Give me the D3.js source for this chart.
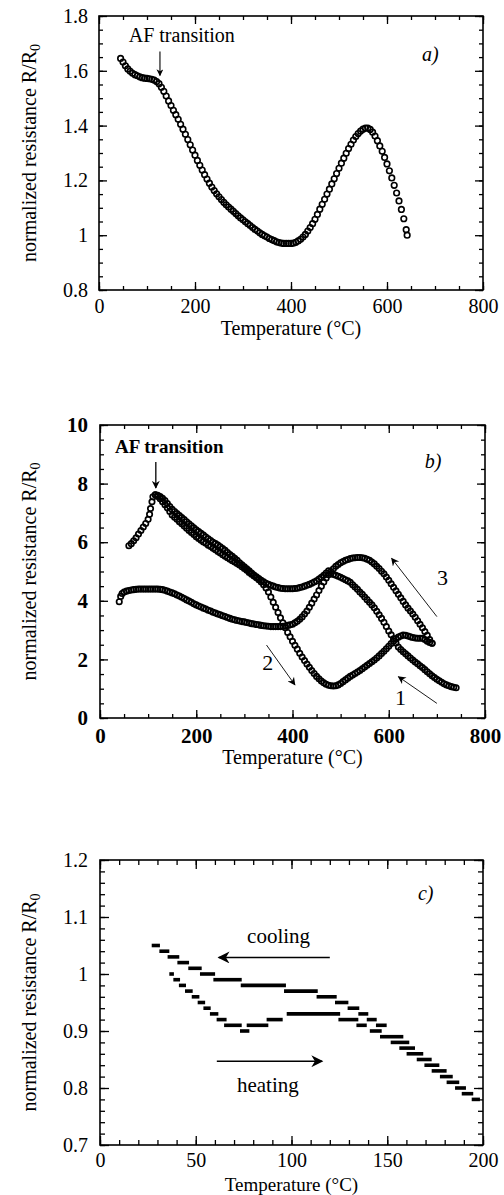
<!DOCTYPE html>
<html>
<head>
<meta charset="utf-8">
<script src="https://cdn.jsdelivr.net/npm/d3@7"></script>
<style>
  body { margin: 0; background: #fff; }
  svg { display: block; }
  svg text { font-family: "Liberation Serif", "Times New Roman", serif; fill: #000; }
  .tick line { stroke: #000; stroke-width: 1.3; }
  .frame { fill: none; stroke: #000; stroke-width: 1.6; }
  .pt { fill: none; stroke: #000; }
  .step { stroke: #000; stroke-width: 3.6; }
</style>
</head>
<body>
<svg id="chart" width="504" height="1195"></svg>
<script>
// ---- panel a) : single heating run, R/R0 vs T
const tempA = [45,50,55,60,65,70,75,80,85,90,95,100,105,110,115,120,125,130,135,140,
  145,150,155,160,165,170,175,180,185,190,195,200,205,210,215,220,225,230,235,240,
  245,250,255,260,265,270,275,280,285,290,295,300,305,310,315,320,325,330,335,340,
  345,350,355,360,365,370,375,380,385,390,395,400,405,410,415,420,425,430,435,440,
  445,450,455,460,465,470,475,480,485,490,495,500,505,510,515,520,525,530,535,540,
  545,550,555,560,565,570,575,580,585,590,595,600,605,610,615,620,625,630,635,640,642];
const resA = [1.645,1.632,1.618,1.607,1.598,1.591,1.586,1.582,1.578,1.575,1.573,1.572,1.571,1.569,1.566,1.561,1.553,1.54,1.525,1.508,
  1.49,1.473,1.456,1.44,1.423,1.405,1.387,1.368,1.349,1.33,1.311,1.292,1.273,1.255,1.238,1.221,1.205,1.19,1.176,1.163,
  1.151,1.14,1.13,1.12,1.111,1.103,1.095,1.087,1.079,1.071,1.063,1.056,1.049,1.042,1.035,1.028,1.021,1.015,1.009,1.003,
  0.998,0.993,0.988,0.984,0.98,0.976,0.973,0.971,0.97,0.97,0.97,0.97,0.971,0.974,0.979,0.985,0.993,1.003,1.015,1.028,
  1.042,1.058,1.076,1.095,1.113,1.131,1.15,1.168,1.187,1.206,1.225,1.244,1.263,1.281,1.299,1.316,1.332,1.347,1.36,1.371,
  1.38,1.387,1.391,1.391,1.386,1.376,1.362,1.345,1.326,1.306,1.284,1.26,1.235,1.209,1.182,1.154,1.125,1.094,1.06,1.02,1.0];

// ---- panel b) : three runs
const tempB1 = [115,120,125,130,135,140,145,150,155,160,165,170,175,180,185,190,195,200,205,210,
  215,220,225,230,235,240,245,250,255,260,265,270,275,280,285,290,295,300,305,310,
  315,320,325,330,335,340,345,350,355,360,365,370,375,380,385,390,395,400,405,410,
  415,420,425,430,435,440,445,450,455,460,465,470,475,480,485,490,495,500,505,510,
  515,520,525,530,535,540,545,550,555,560,565,570,575,580,585,590,595,600,605,610,
  615,620,625,630,635,640,645,650,655,660,665,670,675,680,685,690,695,700,705,710,
  715,720,725,730,735,740];
const resB1 = [7.62,7.6,7.56,7.5,7.42,7.32,7.22,7.12,7.05,6.98,6.91,6.84,6.77,6.7,6.63,6.56,6.49,6.42,6.36,6.3,
  6.24,6.18,6.12,6.06,6.0,5.95,5.9,5.84,5.78,5.72,5.65,5.58,5.52,5.45,5.38,5.3,5.23,5.16,5.09,5.02,
  4.95,4.88,4.82,4.76,4.7,4.65,4.6,4.56,4.53,4.5,4.47,4.45,4.43,4.42,4.41,4.41,4.41,4.41,4.42,4.43,
  4.45,4.47,4.5,4.53,4.56,4.6,4.64,4.68,4.74,4.8,4.87,4.95,5.02,4.93,4.9,4.87,4.84,4.8,4.76,4.72,
  4.68,4.63,4.55,4.47,4.39,4.3,4.22,4.13,4.04,3.95,3.86,3.76,3.64,3.52,3.4,3.27,3.12,2.97,2.84,2.7,
  2.56,2.42,2.34,2.26,2.19,2.12,2.05,1.98,1.91,1.85,1.78,1.72,1.65,1.58,1.51,1.44,1.38,1.32,1.27,1.22,
  1.17,1.13,1.1,1.07,1.05,1.03];

const tempB2 = [60,65,70,75,80,85,90,95,100,103,105,108,110,115,120,125,130,135,140,145,
  150,155,160,165,170,175,180,185,190,195,200,205,210,215,220,225,230,235,240,245,
  250,255,260,265,270,275,280,285,290,295,300,305,310,315,320,325,330,335,340,345,
  350,355,360,365,370,375,380,385,390,395,400,405,410,415,420,425,430,435,440,445,
  450,455,460,465,470,475,480,485,490,495,500,505,510,515,520,525,530,535,540,545,
  550,555,560,565,570,575,580,585,590,595,600,605,610,615,620,625,630,635,640,645,
  650,655,660,665,670,675,680,685,690];
const resB2 = [5.88,5.95,6.05,6.15,6.28,6.4,6.52,6.64,6.78,6.95,7.15,7.38,7.55,7.62,7.56,7.48,7.38,7.28,7.17,7.05,
  6.93,6.85,6.78,6.7,6.63,6.55,6.48,6.4,6.33,6.26,6.19,6.13,6.07,6.01,5.96,5.9,5.85,5.79,5.74,5.68,
  5.63,5.57,5.52,5.47,5.42,5.37,5.32,5.27,5.22,5.16,5.1,5.04,4.97,4.91,4.85,4.79,4.72,4.64,4.55,4.44,
  4.3,4.13,3.95,3.78,3.6,3.42,3.25,3.08,2.92,2.77,2.62,2.48,2.35,2.21,2.08,1.96,1.84,1.73,1.62,1.52,
  1.42,1.34,1.26,1.2,1.15,1.12,1.1,1.09,1.1,1.13,1.18,1.24,1.3,1.36,1.42,1.47,1.52,1.57,1.62,1.68,
  1.74,1.8,1.86,1.92,1.98,2.05,2.12,2.2,2.28,2.36,2.45,2.54,2.62,2.7,2.76,2.8,2.83,2.82,2.8,2.77,
  2.75,2.73,2.72,2.72,2.72,2.68,2.62,2.58,2.55];

const tempB3 = [40,43,46,50,55,60,65,70,75,80,85,90,95,100,105,110,115,120,125,130,
  135,140,145,150,155,160,165,170,175,180,185,190,195,200,205,210,215,220,225,230,
  235,240,245,250,255,260,265,270,275,280,285,290,295,300,305,310,315,320,325,330,
  335,340,345,350,355,360,365,370,375,380,385,390,395,400,405,410,415,420,425,430,
  435,440,445,450,455,460,465,470,475,480,485,490,495,500,505,510,515,520,525,530,
  535,540,545,550,555,560,565,570,575,580,585,590,595,600,605,610,615,620,625,630,
  635,640,645,650,655,660,665,670,675,680,685,690];
const resB3 = [3.97,4.15,4.25,4.3,4.33,4.35,4.37,4.38,4.39,4.4,4.4,4.4,4.4,4.4,4.4,4.4,4.4,4.4,4.39,4.38,
  4.36,4.33,4.3,4.27,4.24,4.2,4.16,4.12,4.08,4.03,3.99,3.95,3.9,3.86,3.82,3.79,3.75,3.72,3.68,3.65,
  3.61,3.58,3.55,3.52,3.49,3.46,3.43,3.4,3.37,3.35,3.33,3.31,3.29,3.28,3.26,3.24,3.22,3.21,3.19,3.18,
  3.16,3.15,3.14,3.13,3.12,3.12,3.12,3.12,3.12,3.13,3.14,3.16,3.18,3.2,3.25,3.3,3.37,3.45,3.55,3.65,
  3.78,3.92,4.06,4.2,4.35,4.5,4.64,4.78,4.89,5.0,5.09,5.18,5.24,5.3,5.34,5.38,5.41,5.44,5.46,5.47,
  5.48,5.48,5.47,5.45,5.42,5.38,5.32,5.26,5.18,5.1,5.01,4.92,4.81,4.7,4.58,4.46,4.34,4.22,4.1,3.98,
  3.86,3.75,3.65,3.55,3.44,3.32,3.2,3.08,2.95,2.82,2.68,2.55];

// ---- panel c) : quantized readings, [T from, T to, R/R0]
const coolingSteps = [
  [27.0,31.3,1.05],[31.0,36.2,1.04],[35.3,41.4,1.03],[40.4,46.5,1.02],[46.1,53.1,1.01],
  [52.2,60.1,1.00],[59.2,74.0,0.99],[73.5,97.1,0.98],[96.1,113.7,0.97],[113.1,123.6,0.96],
  [122.7,129.7,0.95],[129.3,135.4,0.94],[134.9,140.1,0.93],[139.3,144.5,0.92],[144.1,149.7,0.91],
  [146.2,158.4,0.89],[151.8,161.5,0.88],[156.3,164.5,0.87],[160.1,168.8,0.86],[165.4,173.2,0.85],
  [169.4,177.2,0.84],[173.2,181.0,0.83],[177.5,184.2,0.82],[181.0,187.6,0.81],[185.4,191.1,0.80],
  [188.9,194.9,0.79],[194.1,198.4,0.78]
];
const heatingSteps = [
  [36.2,38.6,1.00],[38.3,41.8,0.99],[41.2,44.9,0.98],[44.4,48.4,0.97],[47.9,51.9,0.96],
  [51.0,54.9,0.95],[54.0,57.8,0.94],[57.4,61.8,0.93],[60.9,66.1,0.92],[64.8,74.0,0.91],
  [73.1,78.0,0.90],[76.6,87.9,0.91],[87.0,95.4,0.92],[97.5,125.4,0.93],[124.5,134.9,0.92],
  [133.9,139.3,0.91],[140.9,147.1,0.90]
];

// tick values
const xTicksAB = [0,200,400,600,800];
const yTicksA = [0.8,1,1.2,1.4,1.6,1.8];
const yTicksB = [0,2,4,6,8,10];
const xTicksC = [0,50,100,150,200];
const yTicksC = [0.7,0.8,0.9,1,1.1,1.2];

const svg = d3.select('#chart');
const defs = svg.append('defs');

// barbed arrow heads
function makeHead(id, len, wid) {
  defs.append('marker')
      .attr('id', id)
      .attr('viewBox', '0 0 10 10')
      .attr('refX', 9).attr('refY', 5)
      .attr('markerUnits', 'userSpaceOnUse')
      .attr('markerWidth', len).attr('markerHeight', wid)
      .attr('orient', 'auto')
    .append('path')
      .attr('d', 'M0,0 L10,5 L0,10 L3,5 Z')
      .attr('fill', '#000');
}
makeHead('headS', 8, 7);
makeHead('headM', 10, 8);
makeHead('headL', 15, 12);

function drawPanel(cfg) {
  const g = svg.append('g');
  const x = d3.scaleLinear().domain(cfg.xDomain).range([cfg.left, cfg.right]);
  const y = d3.scaleLinear().domain(cfg.yDomain).range([cfg.bottom, cfg.top]);
  const xMinor = d3.range(cfg.xDomain[0], cfg.xDomain[1] + 1e-9, cfg.xMinorStep);
  const yMinor = d3.range(0, Math.round((cfg.yDomain[1] - cfg.yDomain[0]) / cfg.yMinorStep) + 1)
      .map(i => cfg.yDomain[0] + i * cfg.yMinorStep);

  const clean = sel => sel.select('.domain').remove();

  // minor ticks on all four sides, pointing inward
  g.append('g').attr('transform', `translate(0,${cfg.bottom})`)
      .call(d3.axisBottom(x).tickValues(xMinor).tickSize(-cfg.minor).tickFormat('')).call(clean);
  g.append('g').attr('transform', `translate(0,${cfg.top})`)
      .call(d3.axisTop(x).tickValues(xMinor).tickSize(-cfg.minor).tickFormat('')).call(clean);
  g.append('g').attr('transform', `translate(${cfg.left},0)`)
      .call(d3.axisLeft(y).tickValues(yMinor).tickSize(-cfg.minor).tickFormat('')).call(clean);
  g.append('g').attr('transform', `translate(${cfg.right},0)`)
      .call(d3.axisRight(y).tickValues(yMinor).tickSize(-cfg.minor).tickFormat('')).call(clean);

  // major ticks + labels
  const xAx = g.append('g').attr('transform', `translate(0,${cfg.bottom})`)
      .call(d3.axisBottom(x).tickValues(cfg.xTicks).tickSize(-cfg.major).tickPadding(cfg.xPad).tickFormat(d => d))
      .call(clean);
  g.append('g').attr('transform', `translate(0,${cfg.top})`)
      .call(d3.axisTop(x).tickValues(cfg.xTicks).tickSize(-cfg.major).tickFormat('')).call(clean);
  const yAx = g.append('g').attr('transform', `translate(${cfg.left},0)`)
      .call(d3.axisLeft(y).tickValues(cfg.yTicks).tickSize(-cfg.major).tickPadding(cfg.yPad).tickFormat(d => d))
      .call(clean);
  g.append('g').attr('transform', `translate(${cfg.right},0)`)
      .call(d3.axisRight(y).tickValues(cfg.yTicks).tickSize(-cfg.major).tickFormat('')).call(clean);

  [xAx, yAx].forEach(a => a.selectAll('text')
      .style('font-size', cfg.tickFont + 'px')
      .style('font-weight', cfg.bold ? 'bold' : 'normal'));

  g.append('rect')
      .attr('class', 'frame')
      .attr('x', cfg.left).attr('y', cfg.top)
      .attr('width', cfg.right - cfg.left).attr('height', cfg.bottom - cfg.top);

  // axis titles
  g.append('text')
      .attr('x', (cfg.left + cfg.right) / 2)
      .attr('y', cfg.titleY)
      .attr('text-anchor', 'middle')
      .style('font-size', (cfg.titleFont || 20) + 'px')
      .text('Temperature (°C)');

  const yl = g.append('text')
      .attr('transform', `translate(36,${(cfg.top + cfg.bottom) / 2}) rotate(-90)`)
      .attr('text-anchor', 'middle')
      .style('font-size', '20px');
  yl.append('tspan').text('normalized resistance R/R');
  yl.append('tspan').attr('dy', '0.3em').style('font-size', '14px').text('0');

  return {g, x, y};
}

function note(p, tx, ty, str, size, extra) {
  const t = p.g.append('text')
      .attr('x', p.x(tx)).attr('y', p.y(ty))
      .style('font-size', size + 'px')
      .text(str);
  if (extra === 'italic') t.style('font-style', 'italic');
  if (extra === 'bold') t.style('font-weight', 'bold');
}

function arrow(p, x1, y1, x2, y2, width, head) {
  p.g.append('line')
      .attr('x1', p.x(x1)).attr('y1', p.y(y1))
      .attr('x2', p.x(x2)).attr('y2', p.y(y2))
      .attr('stroke', '#000').attr('stroke-width', width)
      .attr('marker-end', `url(#${head})`);
}

// ---------- a)
const A = drawPanel({
  left: 99, right: 483, top: 16, bottom: 290,
  xDomain: [0, 800], yDomain: [0.8, 1.8],
  xTicks: xTicksAB, yTicks: yTicksA, xMinorStep: 50, yMinorStep: 0.05,
  major: 8, minor: 4, xPad: 9, yPad: 11, tickFont: 20, titleY: 335
});
A.g.append('g').selectAll('circle')
    .data(d3.zip(tempA, resA))
    .join('circle')
      .attr('class', 'pt')
      .attr('cx', d => A.x(d[0]))
      .attr('cy', d => A.y(d[1]))
      .attr('r', 2.8)
      .attr('stroke-width', 1.6);

note(A, 62, 1.705, 'AF transition', 20);
arrow(A, 127, 1.67, 127, 1.583, 1.1, 'headS');
note(A, 673, 1.636, 'a)', 20, 'italic');

// ---------- b)
const B = drawPanel({
  left: 100, right: 485, top: 425, bottom: 718,
  xDomain: [0, 800], yDomain: [0, 10],
  xTicks: xTicksAB, yTicks: yTicksB, xMinorStep: 50, yMinorStep: 0.5,
  major: 8, minor: 4, xPad: 10, yPad: 12, tickFont: 21, bold: true, titleY: 764
});
[[tempB1, resB1], [tempB2, resB2], [tempB3, resB3]].forEach(([t, r]) => {
  B.g.append('g').selectAll('circle')
      .data(d3.zip(t, r))
      .join('circle')
        .attr('class', 'pt')
        .attr('cx', d => B.x(d[0]))
        .attr('cy', d => B.y(d[1]))
        .attr('r', 2.7)
        .attr('stroke-width', 1.7);
});

note(B, 31, 9.04, 'AF transition', 19, 'bold');
arrow(B, 116, 8.74, 116, 7.85, 1.3, 'headM');
note(B, 675, 8.53, 'b)', 20, 'italic');

// run arrows with their numbers: [x1,y1,x2,y2,label,lx,ly]
const runArrows = [
  [700, 3.46, 606, 5.45, '3', 700, 4.54],
  [346, 2.49, 405, 1.13, '2', 337, 1.64],
  [700, 0.5, 620, 1.41, '1', 613, 0.44]
];
runArrows.forEach(a => {
  arrow(B, a[0], a[1], a[2], a[3], 0.9, 'headM');
  note(B, a[5], a[6], a[4], 22);
});

// ---------- c)
const C = drawPanel({
  left: 100, right: 483, top: 860, bottom: 1145,
  xDomain: [0, 200], yDomain: [0.7, 1.2],
  xTicks: xTicksC, yTicks: yTicksC, xMinorStep: 10, yMinorStep: 0.02,
  major: 9, minor: 5, xPad: 8, yPad: 12, tickFont: 20, titleY: 1191, titleFont: 19
});
[coolingSteps, heatingSteps].forEach(steps => {
  C.g.append('g').selectAll('line')
      .data(steps)
      .join('line')
        .attr('class', 'step')
        .attr('x1', d => C.x(d[0])).attr('x2', d => C.x(d[1]))
        .attr('y1', d => C.y(d[2])).attr('y2', d => C.y(d[2]));
});

note(C, 166, 1.13, 'c)', 20, 'italic');
note(C, 76.8, 1.054, 'cooling', 21);
arrow(C, 120, 1.029, 62, 1.029, 1.4, 'headL');
arrow(C, 61, 0.847, 116, 0.847, 1.4, 'headL');
note(C, 71.5, 0.793, 'heating', 21);
</script>
</body>
</html>
